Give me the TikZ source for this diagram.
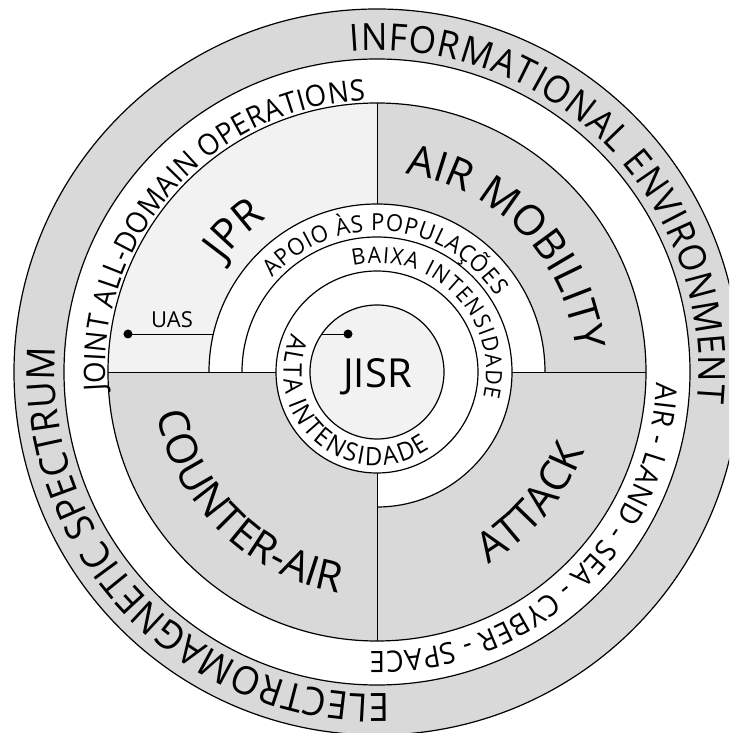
\documentclass[tikz,border=0pt]{standalone}
\usepackage{fontspec}
\setmainfont{Open Sans}
\newfontfamily\arcf[FakeStretch=0.94]{Open Sans}
\usetikzlibrary{decorations.text}
\definecolor{bandgray}{HTML}{D9D9D9}
\definecolor{lightfill}{HTML}{F2F2F2}
\newcommand\fsz[1]{\fontsize{#1}{#1}\selectfont}
% text spread along an arc: radius, start angle, end angle, size, text
\newcommand\fittext[5]{%
  \path[decorate,decoration={text along path,text align=fit to path,text={|\arcf\fsz{#4}|#5}}]
    (#2:#1pt) arc[start angle=#2,end angle=#3,radius=#1pt];}
% clockwise arc text centred at an angle (letter tops outward)
\newcommand\cwtext[4]{%
  \path[decorate,decoration={text along path,text align=center,text={|\fsz{#3}|#4}}]
    (#2+85:#1pt) arc[start angle=#2+85,end angle=#2-85,radius=#1pt];}
% counter-clockwise arc text centred at an angle (letter tops inward)
\newcommand\ccwtext[4]{%
  \path[decorate,decoration={text along path,text align=center,text={|\fsz{#3}|#4}}]
    (#2-85:#1pt) arc[start angle=#2-85,end angle=#2+85,radius=#1pt];}
\begin{document}
\begin{tikzpicture}[x=1pt,y=1pt,
  ring/.style={draw=black,line width=1.2pt},
  sep/.style={draw=black,line width=0.8pt},
  dot/.style={circle,fill=black,inner sep=0pt,minimum size=9pt},
  lbl/.style={inner sep=0pt}]
\useasboundingbox (-377,-361) rectangle (352,372);
\clip (-377,-361) rectangle (352,372);
\coordinate (O) at (0,0);
% outer band and white ring
\filldraw[ring,fill=bandgray] (O) circle[radius=363pt];
\filldraw[ring,fill=white] (O) circle[radius=313pt];
% quadrants
\fill[bandgray] (O) circle[radius=269pt];
\fill[lightfill] (O) -- (180:269pt) arc[start angle=180,end angle=90,radius=269pt] -- cycle;
% inner white regions
\fill[white] (168pt,0) arc[start angle=0,end angle=180,radius=168pt] -- cycle;
\fill[white] (O) -- (0,-135pt) arc[start angle=270,end angle=360,radius=135pt] -- cycle;
\fill[white] (O) circle[radius=101pt];
% separators
\draw[sep] (-269pt,0) -- (-101pt,0);
\draw[sep] (135pt,0) -- (269pt,0);
\draw[sep] (0,168pt) -- (0,269pt);
\draw[sep] (0,-101pt) -- (0,-269pt);
% circles and arcs
\draw[ring] (O) circle[radius=269pt];
\draw[ring] (168pt,0) arc[start angle=0,end angle=180,radius=168pt];
\draw[ring] (-90:135pt) arc[start angle=-90,end angle=180,radius=135pt];
\draw[ring] (O) circle[radius=101pt];
\filldraw[ring,fill=lightfill] (O) circle[radius=67pt];
% curved ring texts
\fittext{322}{94.7}{-5.5}{37.5}{INFORMATIONAL ENVIRONMENT}
\fittext{322}{272.2}{175.7}{39}{ELECTROMAGNETIC SPECTRUM}
\fittext{272}{184}{92.4}{29.5}{JOINT ALL-DOMAIN OPERATIONS}
\fittext{280}{-2.2}{-91.4}{29.5}{AIR - LAND - SEA - CYBER - SPACE}
\fittext{141}{138}{32.4}{23.5}{APOIO ÀS POPULAÇÕES}
\fittext{109}{102.8}{-13.5}{22.5}{BAIXA INTENSIDADE}
\fittext{93.5}{155.8}{304.7}{25.5}{ALTA INTENSIDADE}
% quadrant texts
\cwtext{189}{135}{42}{JPR}
\cwtext{200}{44}{42}{AIR MOBILITY}
\ccwtext{224}{225.5}{42}{COUNTER-AIR}
\ccwtext{222}{319.7}{42}{ATTACK}
% labels and pointers
\node[lbl,anchor=base,font=\fsz{40}] (jisr) at (0.5pt,-16pt) {JISR};
\node[lbl,anchor=base,font=\fsz{22}] (uas) at (-205pt,44pt) {UAS};
\node[dot] (uasdot) at (-249pt,38pt) {};
\coordinate (uasend) at (-163.6pt,38pt);
\draw[sep] (uasdot.center) -- (uasend);
\node[dot] (jdot) at (-29pt,38pt) {};
\coordinate (jend) at (-55.2pt,38pt);
\draw[sep] (jdot.center) -- (jend);
\end{tikzpicture}
\end{document}
